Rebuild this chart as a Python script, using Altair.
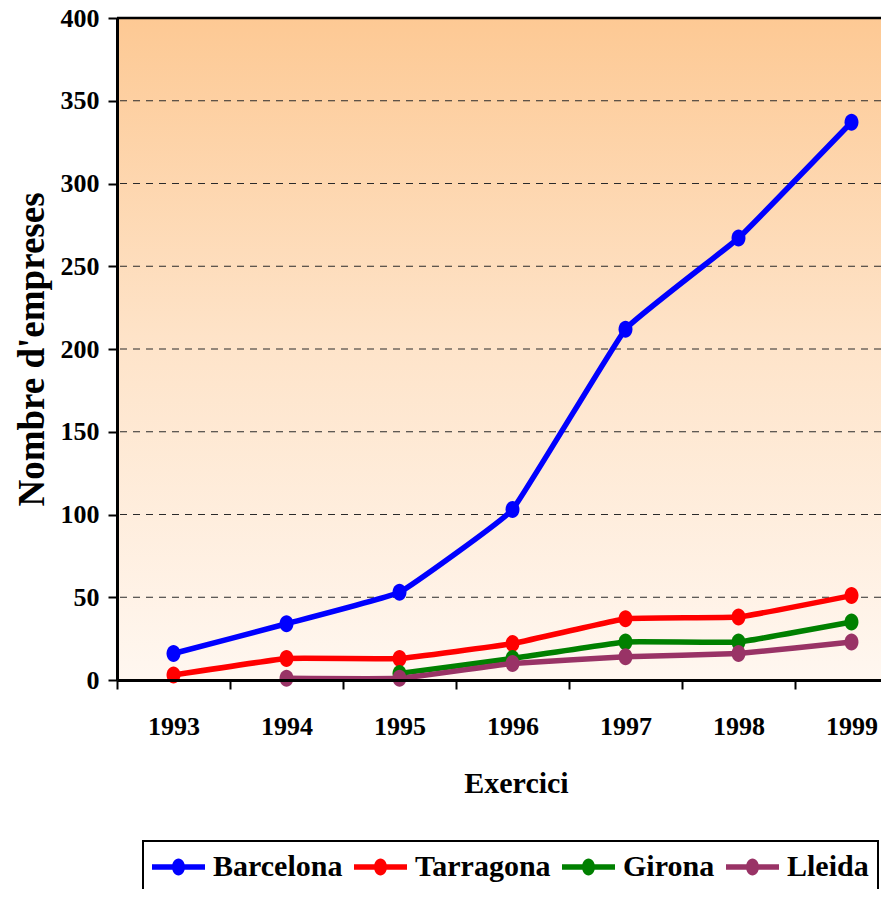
import altair as alt
import pandas as pd

years = [1993, 1994, 1995, 1996, 1997, 1998, 1999]
series = ["Barcelona", "Tarragona", "Girona", "Lleida"]
barcelona = [16, 34, 53, 103, 212, 267, 337]
tarragona = [3, 13, 13, 22, 37, 38, 51]
girona = [None, None, 4, 13, 23, 23, 35]
lleida = [None, 1, 1, 10, 14, 16, 23]
colors = ["#0000FF", "#FF0000", "#008000", "#993366"]
y_ticks = [0, 50, 100, 150, 200, 250, 300, 350, 400]
grid_values = [50, 100, 150, 200, 250, 300, 350]

rows = []
for name, vals in zip(series, [barcelona, tarragona, girona, lleida]):
    for yr, v in zip(years, vals):
        if v is not None:
            rows.append({"Exercici": yr, "Valor": v, "Provincia": name})
df = pd.DataFrame(rows)

FONT = "Liberation Serif"
W, H = 764, 662
STEP = 113

xscale = alt.Scale(domain=[1992.5, 1992.5 + W / STEP], nice=False, zero=False)
yscale = alt.Scale(domain=[0, 400], nice=False, zero=True)

x_axis = alt.Axis(
    title="Exercici", values=years, format="d", tickOffset=-STEP / 2, labelOffset=STEP / 2,
    labelFlush=False, labelOverlap=False, grid=False,
    domainColor="black", domainWidth=3, tickColor="black", tickWidth=2, tickSize=9,
    labelFont=FONT, labelFontSize=26, labelFontWeight="bold", labelColor="black",
    labelPadding=24,
    titleFont=FONT, titleFontSize=30, titleFontWeight="bold", titleColor="black",
    titleX=399, titleY=103, titleBaseline="middle", titleAlign="center",
    zindex=1,
)
y_axis = alt.Axis(
    title="Nombre d'empreses", values=y_ticks, grid=False,
    domainColor="black", domainWidth=3, tickColor="black", tickWidth=2, tickSize=9,
    labelFont=FONT, labelFontSize=26, labelFontWeight="bold", labelColor="black",
    labelPadding=9,
    titleFont=FONT, titleFontSize=37, titleFontWeight="bold", titleColor="black",
    titleAngle=270, titleX=-85, titleY=331, titleBaseline="middle", titleAlign="center",
    zindex=1,
)

bg = alt.Chart(pd.DataFrame({"k": [0]})).mark_rect(
    fill=alt.Gradient(
        gradient="linear",
        stops=[alt.GradientStop(color="#FDC994", offset=0),
               alt.GradientStop(color="#FEE4CA", offset=0.5),
               alt.GradientStop(color="#FFF7F0", offset=1)],
        x1=0, x2=0, y1=0, y2=1,
    )
).encode(x=alt.value(0), x2=alt.value("width"), y=alt.value(0), y2=alt.value("height"))

grid = alt.Chart(pd.DataFrame({"g": grid_values})).mark_rule(
    color="#2a2a2a", strokeWidth=1, strokeDash=[7, 6]
).encode(y=alt.Y("g:Q", scale=yscale, axis=y_axis))

top = alt.Chart(pd.DataFrame({"t": [400]})).mark_rule(
    color="black", strokeWidth=2.5
).encode(y=alt.Y("t:Q", scale=yscale))

# legend symbol: line with ellipse marker, unit = 17px (symbolSize 34^2)
legend_symbol = (
    "M-1,-0.162H2.118V0.162H-1Z "
    "M0.559,-0.5A0.382,0.5 0 1,1 0.559,0.5A0.382,0.5 0 1,1 0.559,-0.5Z"
)

color = alt.Color(
    "Provincia:N",
    scale=alt.Scale(domain=series, range=colors),
    legend=alt.Legend(
        title=None, orient="none", legendX=26, legendY=823, direction="horizontal",
        columns=4, padding=9, strokeColor="black", fillColor="white",
        labelFont=FONT, labelFontSize=30, labelFontWeight="bold", labelColor="black",
        labelOffset=27, columnPadding=11,
        symbolType=legend_symbol,
        symbolSize=1156, symbolStrokeWidth=0, symbolOpacity=1,
    ),
)

base = alt.Chart(df).encode(
    x=alt.X("Exercici:Q", scale=xscale, axis=x_axis),
    y=alt.Y("Valor:Q", scale=yscale),
    color=color,
    order=alt.Order("Exercici:Q"),
)

lines = base.mark_line(strokeWidth=5.5, interpolate="cardinal", tension=0.75)
points = base.mark_point(
    filled=True, opacity=1, size=289,
    shape="M0,-1A0.82,1 0 1,1 0,1A0.82,1 0 1,1 0,-1Z",
)

chart = alt.layer(bg, grid, top, lines, points).properties(
    width=W, height=H,
    autosize=alt.AutoSizeParams(type="none"),
    padding={"left": 109, "top": 10, "right": 0, "bottom": 209},
).configure_view(stroke=None).configure(font=FONT).configure_legend(strokeWidth=2)

chart.save("out.html", embed_options={"renderer": "svg", "actions": False})
